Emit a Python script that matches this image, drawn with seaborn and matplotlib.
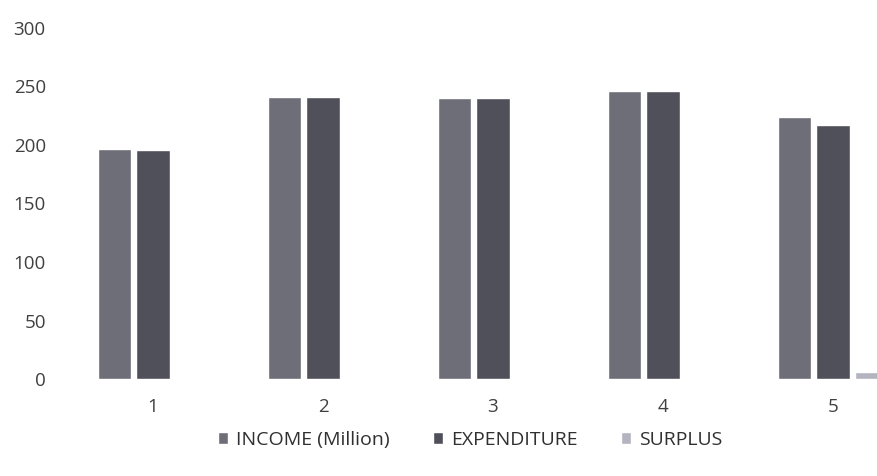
import pandas as pd
import numpy as np
import matplotlib
matplotlib.use("Agg")
import matplotlib.pyplot as plt
import seaborn as sns

# values
groups = ['1', '2', '3', '4', '5']
income = [197, 241, 240, 246, 224]
expenditure = [196, 241, 240, 246, 217]
surplus = [1, 0, 0, 0, 6]
series = ['INCOME (Million)', 'EXPENDITURE', 'SURPLUS']
colors = ['#6e6e78', '#50505a', '#b4b4c0']

df = pd.DataFrame({
    'Group': groups * 3,
    'Value': income + expenditure + surplus,
    'Series': [s for s in series for _ in groups],
})

sns.set_style('white')
plt.rcParams['font.family'] = ['Open Sans', 'DejaVu Sans']

fig = plt.figure(figsize=(8.77, 4.76), dpi=100)
ax = fig.add_axes([68 / 877, 97 / 476, 850 / 877, 351 / 476])

sns.barplot(data=df, x='Group', y='Value', hue='Series', palette=colors,
            width=0.68, gap=0.12, ax=ax, saturation=1)

ax.set_ylim(0, 300)
ax.set_xlim(-0.5, 4.5)
ax.set_yticks(range(0, 301, 50))
ax.set_xlabel('')
ax.set_ylabel('')
for s in ax.spines.values():
    s.set_visible(False)
ax.tick_params(axis='both', length=0, labelsize=13.5, colors='#404040')
ax.tick_params(axis='y', pad=16)
ax.tick_params(axis='x', pad=14)

ax.legend(loc='center', bbox_to_anchor=(470 / 877, 36 / 476),
          bbox_transform=fig.transFigure, ncol=3, frameon=False,
          fontsize=14, handlelength=0.55, handleheight=0.55,
          handletextpad=0.4, columnspacing=2.2, labelcolor='#303030')

fig.savefig('out.png', dpi=100)
